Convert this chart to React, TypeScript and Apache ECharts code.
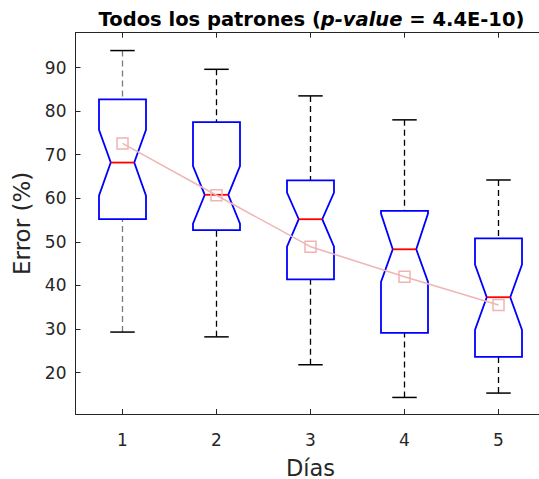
import React, { useEffect, useRef } from "react";
import * as echarts from "echarts";

const days = ["1", "2", "3", "4", "5"];
const whiskerHigh = [93.9, 89.6, 83.5, 78.0, 64.2];
const q3 = [82.7, 77.5, 64.1, 57.1, 50.8];
const notchHigh = [75.7, 67.4, 61.3, 56.5, 44.8];
const medians = [68.2, 60.8, 55.2, 48.3, 37.3];
const notchLow = [60.6, 54.2, 48.9, 40.8, 29.8];
const q1 = [55.2, 52.7, 41.4, 29.1, 23.6];
const whiskerLow = [29.3, 28.2, 21.8, 14.3, 15.3];
const means = [72.6, 60.7, 48.9, 42.0, 35.5];
const yTicks = [20, 30, 40, 50, 60, 70, 80, 90];

const FONT = "DejaVu Sans";
const AX = "#262626";

export default function App() {
  const ref = useRef<HTMLDivElement>(null);
  useEffect(() => {
    if (!ref.current) return;
    document.documentElement.style.overflow = "hidden";
    document.body.style.overflow = "hidden";
    document.body.style.margin = "0";
    const chart = echarts.init(ref.current, null, { renderer: "svg" });
    const boxData = days.map((_, i) => [
      i,
      whiskerLow[i],
      q1[i],
      notchLow[i],
      medians[i],
      notchHigh[i],
      q3[i],
      whiskerHigh[i],
    ]);
    const option: any = {
      animation: false,
      backgroundColor: "#ffffff",
      grid: {
        left: 75.5,
        top: 32.7,
        width: 470,
        height: 381.3,
        containLabel: false,
        outerBoundsMode: "none",
      },
      graphic: [
        {
          type: "text",
          x: 311.5,
          y: 19,
          style: {
            text: "{b|Todos los patrones (}{i|p-value}{b| = 4.4E-10)}",
            align: "center",
            verticalAlign: "middle",
            rich: {
              b: { fontFamily: FONT, fontSize: 19.5, fontWeight: "bold", fill: "#000" },
              i: { fontFamily: FONT, fontSize: 19.5, fontWeight: "bold", fontStyle: "italic", fill: "#000" },
            },
          },
        },
      ],
      xAxis: [
        {
          type: "category",
          data: days,
          boundaryGap: true,
          position: "bottom",
          axisLine: { show: true, lineStyle: { color: AX, width: 1 } },
          axisTick: { show: true, inside: true, alignWithLabel: true, length: 5, lineStyle: { color: AX } },
          axisLabel: { fontFamily: FONT, fontSize: 17, color: AX, margin: 17 },
          splitLine: { show: false },
          name: "Días",
          nameLocation: "middle",
          nameGap: 42,
          nameTextStyle: { fontFamily: FONT, fontSize: 22.5, color: AX },
        },
        {
          type: "category",
          data: days,
          boundaryGap: true,
          position: "top",
          axisLine: { show: true, onZero: false, lineStyle: { color: AX, width: 1 } },
          axisTick: { show: true, inside: true, alignWithLabel: true, length: 5, lineStyle: { color: AX } },
          axisLabel: { show: false },
          splitLine: { show: false },
        },
      ],
      yAxis: {
        type: "value",
        min: 10.5,
        max: 98,
        axisLine: { show: true, lineStyle: { color: AX, width: 1 } },
        axisTick: { show: true, inside: true, length: 5, lineStyle: { color: AX }, customValues: yTicks },
        axisLabel: { fontFamily: FONT, fontSize: 17, color: AX, margin: 9, customValues: yTicks },
        splitLine: { show: false },
        name: "Error (%)",
        nameLocation: "middle",
        nameRotate: 90,
        nameGap: 38,
        nameTextStyle: { fontFamily: FONT, fontSize: 23, color: AX },
      },
      series: [
        {
          type: "custom",
          xAxisIndex: 0,
          z: 2,
          data: boxData,
          renderItem: (params: any, api: any) => {
            const i = api.value(0);
            const wl = api.value(1);
            const b1 = api.value(2);
            const nl = api.value(3);
            const md = api.value(4);
            const nh = api.value(5);
            const b3 = api.value(6);
            const wh = api.value(7);
            const band = api.size([1, 0])[0];
            const half = band * 0.25;
            const nHalf = half * 0.5;
            const capHalf = band * 0.13;
            const cx = api.coord([i, md])[0];
            const y = (v: number) => api.coord([i, v])[1];
            const whiskerColor = i === 0 ? "#7a7a7a" : "#000000";
            const pts = [
              [cx - half, y(b3)],
              [cx + half, y(b3)],
              [cx + half, y(nh)],
              [cx + nHalf, y(md)],
              [cx + half, y(nl)],
              [cx + half, y(b1)],
              [cx - half, y(b1)],
              [cx - half, y(nl)],
              [cx - nHalf, y(md)],
              [cx - half, y(nh)],
            ];
            return {
              type: "group",
              children: [
                {
                  type: "line",
                  shape: { x1: cx, y1: y(wh), x2: cx, y2: y(b3) },
                  style: { stroke: whiskerColor, lineWidth: 1.3, lineDash: [6, 4] },
                },
                {
                  type: "line",
                  shape: { x1: cx, y1: y(wl), x2: cx, y2: y(b1) },
                  style: { stroke: whiskerColor, lineWidth: 1.3, lineDash: [6, 4] },
                },
                {
                  type: "line",
                  shape: { x1: cx - capHalf, y1: y(wh), x2: cx + capHalf, y2: y(wh) },
                  style: { stroke: "#000", lineWidth: 1.5 },
                },
                {
                  type: "line",
                  shape: { x1: cx - capHalf, y1: y(wl), x2: cx + capHalf, y2: y(wl) },
                  style: { stroke: "#000", lineWidth: 1.5 },
                },
                {
                  type: "polygon",
                  shape: { points: pts },
                  style: { fill: "none", stroke: "#0000ff", lineWidth: 1.8 },
                },
                {
                  type: "line",
                  shape: { x1: cx - nHalf, y1: y(md), x2: cx + nHalf, y2: y(md) },
                  style: { stroke: "#ff0000", lineWidth: 1.8 },
                },
              ],
            };
          },
        },
        {
          type: "line",
          xAxisIndex: 0,
          z: 5,
          data: means,
          symbol: "rect",
          symbolSize: 11,
          lineStyle: { color: "#f0b4b4", width: 1.5 },
          itemStyle: { color: "rgba(0,0,0,0)", borderColor: "#f0b4b4", borderWidth: 1.5 },
        },
      ],
    };
    chart.setOption(option);
    return () => chart.dispose();
  }, []);
  return (
    <div style={{ position: "absolute", left: 0, top: 0, width: 539, height: 479, overflow: "hidden" }}>
      <div ref={ref} style={{ width: 539, height: 479, background: "#fff" }} />
    </div>
  );
}
